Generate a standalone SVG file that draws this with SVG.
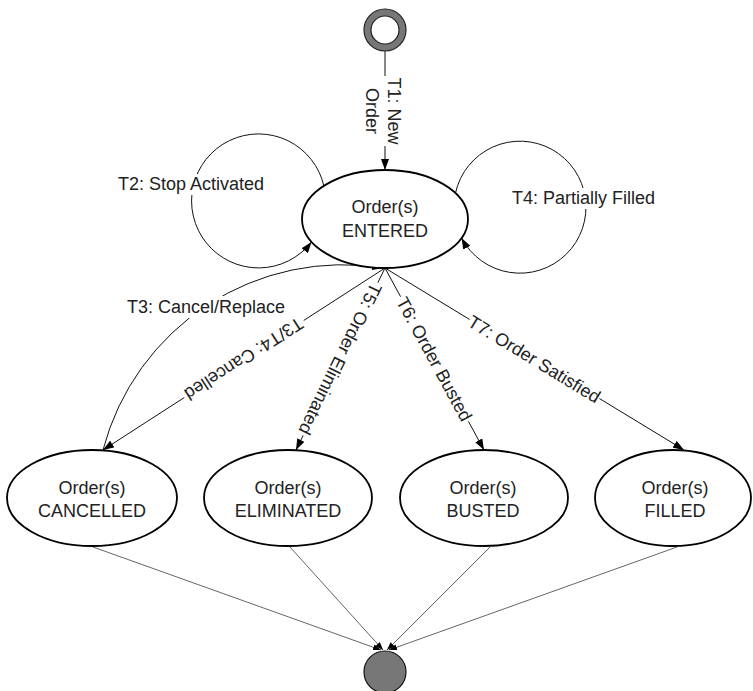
<svg xmlns="http://www.w3.org/2000/svg" width="753" height="691" viewBox="0 0 753 691">
<style>
  text { font-family: "Liberation Sans", Arial, sans-serif; font-size: 18px; fill: #222; }
  .state { fill: #fff; stroke: #000; stroke-width: 1.8; }
  .edge { fill: none; stroke: #111; stroke-width: 1; }
  .fin { fill: none; stroke: #666; stroke-width: 1; }
  .bg { fill: #fff; stroke: none; }
  .mid { text-anchor: middle; }
</style>
<defs>
  <marker id="arr" markerWidth="11" markerHeight="8" refX="11" refY="4" orient="auto" markerUnits="userSpaceOnUse">
    <path d="M0,0 L11,4 L0,8 z" fill="#000"/>
  </marker>
  <marker id="arrs" markerWidth="8" markerHeight="6" refX="8" refY="3" orient="auto" markerUnits="userSpaceOnUse">
    <path d="M0,0 L8,3 L0,6 z" fill="#000"/>
  </marker>
</defs>
<rect width="753" height="691" fill="#fff"/>

<g id="connectors">
  <!-- T1 -->
  <line class="edge" x1="385" y1="51" x2="385" y2="170" marker-end="url(#arr)"/>
  <g transform="translate(385,111) rotate(90)">
    <rect class="bg" x="-35" y="-17" width="70" height="40"/>
    <text class="mid" x="0" y="-3">T1: New</text>
    <text class="mid" x="0" y="19">Order</text>
  </g>
  <!-- T2 self loop -->
  <path class="edge" d="M324,186.5 A67 67 0 1 0 311.5,242" marker-end="url(#arr)"/>
  <rect class="bg" x="115" y="174" width="156" height="21"/>
  <text x="118" y="190">T2: Stop Activated</text>
  <!-- T4 self loop -->
  <path class="edge" d="M455.5,193 A66 66 0 1 1 461.6,238" marker-end="url(#arr)"/>
  <rect class="bg" x="509" y="188" width="151" height="21"/>
  <text x="512" y="204">T4: Partially Filled</text>
  <!-- T3 Cancel/Replace -->
  <path class="edge" d="M103,450 A248 248 0 0 1 383,268" marker-end="url(#arr)"/>
  <rect class="bg" x="124" y="296" width="164" height="22"/>
  <text x="127" y="313">T3: Cancel/Replace</text>
  <!-- T3/T4 Cancelled -->
  <line class="edge" x1="385" y1="268" x2="103" y2="450" marker-end="url(#arr)"/>
  <g transform="translate(244,359) rotate(147.2)">
    <rect class="bg" x="-71" y="-9" width="142" height="18"/>
    <text class="mid" x="0" y="6.5">T3/T4: Cancelled</text>
  </g>
  <!-- T5 -->
  <line class="edge" x1="385" y1="268" x2="296" y2="450" marker-end="url(#arr)"/>
  <g transform="translate(340.5,359) rotate(116.06)">
    <rect class="bg" x="-85" y="-9" width="170" height="18"/>
    <text class="mid" x="0" y="6.5">T5: Order Eliminated</text>
  </g>
  <!-- T6 -->
  <line class="edge" x1="385" y1="268" x2="484" y2="450" marker-end="url(#arr)"/>
  <g transform="translate(434.5,359) rotate(61.46)">
    <rect class="bg" x="-71" y="-9" width="142" height="18"/>
    <text class="mid" x="0" y="6.5">T6: Order Busted</text>
  </g>
  <!-- T7 -->
  <line class="edge" x1="385" y1="268" x2="684" y2="450" marker-end="url(#arr)"/>
  <g transform="translate(534.5,359) rotate(31.33)">
    <rect class="bg" x="-76" y="-9" width="152" height="18"/>
    <text class="mid" x="0" y="6.5">T7: Order Satisfied</text>
  </g>
  <!-- to final -->
  <line class="fin" x1="93" y1="547" x2="381" y2="650" marker-end="url(#arrs)"/>
  <line class="fin" x1="290" y1="547" x2="383" y2="650" marker-end="url(#arrs)"/>
  <line class="fin" x1="490" y1="547" x2="387" y2="650" marker-end="url(#arrs)"/>
  <line class="fin" x1="677" y1="547" x2="389" y2="650" marker-end="url(#arrs)"/>
</g>

<g id="start">
  <circle cx="385" cy="30" r="21" fill="#777" stroke="#222" stroke-width="1.2"/>
  <circle cx="385" cy="30" r="14" fill="#fff" stroke="#222" stroke-width="1.2"/>
</g>

<g id="entered">
  <ellipse class="state" cx="385" cy="219" rx="83" ry="49"/>
  <text class="mid" x="385" y="213">Order(s)</text>
  <text class="mid" x="385" y="237">ENTERED</text>
</g>

<g id="cancelled">
  <ellipse class="state" cx="92" cy="498" rx="85" ry="48"/>
  <text class="mid" x="92" y="494">Order(s)</text>
  <text class="mid" x="92" y="517">CANCELLED</text>
</g>

<g id="eliminated">
  <ellipse class="state" cx="288" cy="498" rx="84" ry="48"/>
  <text class="mid" x="288" y="494">Order(s)</text>
  <text class="mid" x="288" y="517">ELIMINATED</text>
</g>

<g id="busted">
  <ellipse class="state" cx="484" cy="498" rx="84" ry="48"/>
  <text class="mid" x="483" y="494">Order(s)</text>
  <text class="mid" x="483" y="517">BUSTED</text>
</g>

<g id="filled">
  <ellipse class="state" cx="673" cy="498" rx="78" ry="48"/>
  <text class="mid" x="675" y="494">Order(s)</text>
  <text class="mid" x="675" y="517">FILLED</text>
</g>

<g id="final">
  <circle cx="385" cy="672" r="21" fill="#777" stroke="#111" stroke-width="1.2"/>
</g>
</svg>
